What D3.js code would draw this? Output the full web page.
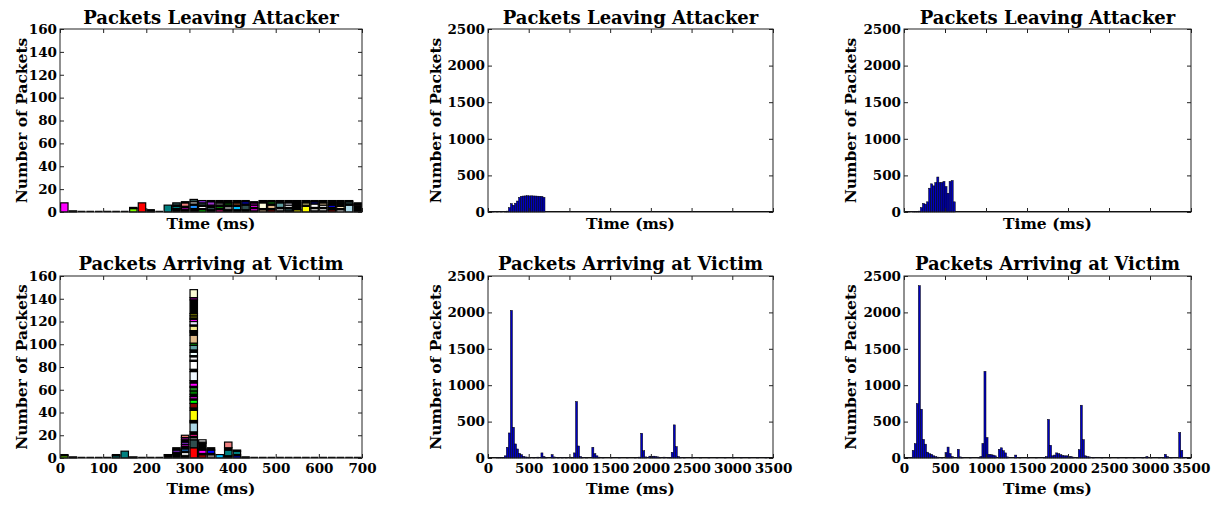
<!DOCTYPE html>
<html>
<head>
<meta charset="utf-8">
<script src="https://cdn.jsdelivr.net/npm/d3@7/dist/d3.min.js"></script>
<style>
  body { margin: 0; background: #fff; }
  text { font-family: "DejaVu Serif", serif; font-weight: bold; fill: #000; }
</style>
</head>
<body>
<div id="canvas"></div>
<script>
// left column: stacked 20 ms bins, one array of [count, colour] per bin
var attackerA = [
  [[8,'magenta']], [[1,'black']], [], [], [], [], [], [],
  [[3,'lawngreen'],[1,'black']], [[8,'red']], [[1,'darkred'],[1,'black']], [],
  [[6,'teal']],
  [[2,'black'],[1,'purple'],[2,'teal'],[1,'black'],[2,'darkslategray']],
  [[2,'black'],[2,'purple'],[1,'black'],[3,'lightcoral'],[1,'black']],
  [[3,'black'],[3,'dodgerblue'],[1,'black'],[2,'white'],[2,'darkslategray']],
  [[2,'lime'],[1,'black'],[2,'white'],[1,'black'],[2,'darkslategray'],[2,'blueviolet']],
  [[1,'black'],[1,'navy'],[2,'darkslategray'],[1,'orange'],[1,'black'],[3,'darkorchid'],[1,'black']],
  [[2,'deeppink'],[1,'black'],[2,'green'],[1,'black'],[2,'gray'],[2,'black']],
  [[2,'black'],[3,'gray'],[1,'black'],[2,'darkgreen'],[2,'black']],
  [[2,'black'],[3,'deepskyblue'],[1,'black'],[2,'sienna'],[2,'black']],
  [[2,'black'],[4,'darkslategray'],[1,'black'],[2,'blue'],[1,'black']],
  [[1,'navy'],[2,'magenta'],[1,'black'],[2,'magenta'],[2,'purple'],[1,'black']],
  [[2,'tan'],[1,'black'],[5,'lightyellow'],[2,'black']],
  [[2,'darkred'],[1,'black'],[3,'burlywood'],[1,'black'],[2,'green'],[1,'black']],
  [[1,'black'],[2,'lightgray'],[1,'black'],[4,'cadetblue'],[2,'black']],
  [[1,'darkgoldenrod'],[2,'darkslategray'],[1,'black'],[2,'white'],[2,'lavender'],[2,'black']],
  [[2,'yellow'],[8,'black']],
  [[5,'yellow'],[1,'black'],[2,'khaki'],[2,'black']],
  [[1,'black'],[2,'white'],[1,'black'],[3,'white'],[2,'navy'],[1,'black']],
  [[1,'gray'],[2,'white'],[1,'black'],[2,'white'],[2,'tan'],[2,'black']],
  [[2,'darkred'],[2,'black'],[2,'blue'],[4,'black']],
  [[2,'white'],[1,'black'],[2,'wheat'],[2,'black'],[1,'lawngreen'],[2,'black']],
  [[6,'lightblue'],[1,'black'],[2,'darkslategray'],[1,'black']],
  [[6,'black'],[1,'palevioletred'],[1,'black']]
];

var victimA = [
  [[2,'lawngreen'],[1,'black']], [[1,'black']], [], [], [], [],
  [[2,'teal'],[1,'black']], [[6,'teal']], [[1,'black']], [], [], [],
  [[3,'black']],
  [[3,'black'],[1,'navy'],[1,'black'],[2,'blueviolet'],[2,'black']],
  [[2,'black'],[3,'lightgray'],[1,'black'],[2,'dodgerblue'],[2,'black'],[2,'purple'],[2,'blueviolet'],[2,'black'],[2,'purple'],[2,'salmon']],
  [[9,'red'],[7,'darkslategray'],[2,'gray'],[1,'black'],[2,'deeppink'],[2,'black'],[8,'lightblue'],[1,'black'],[1,'black'],
   [9,'yellow'],[2,'black'],[4,'darkred'],[3,'lime'],[1,'black'],[2,'magenta'],[2,'black'],[3,'green'],[3,'forestgreen'],
   [1,'black'],[3,'magenta'],[2,'black'],[8,'aliceblue'],[2,'black'],[7,'white'],[1,'black'],[3,'whitesmoke'],[1,'orange'],
   [3,'azure'],[2,'black'],[4,'cadetblue'],[2,'green'],[7,'burlywood'],[2,'black'],[1,'blue'],[1,'gray'],[4,'khaki'],
   [1,'gray'],[3,'lavender'],[2,'magenta'],[1,'black'],[2,'olive'],[2,'olive'],[12,'black'],[2,'purple'],[7,'lightgoldenrodyellow']],
  [[3,'darkred'],[1,'black'],[3,'magenta'],[1,'black'],[5,'black'],[1,'black'],[2,'white']],
  [[3,'gray'],[1,'black'],[3,'blue'],[2,'black']],
  [[3,'deepskyblue']],
  [[1,'blue'],[1,'black'],[5,'teal'],[2,'black'],[5,'lightcoral']],
  [[2,'blue'],[1,'black'],[3,'teal'],[1,'black']],
  [[1,'black']], [], [], [], [], [], [], [], [], [], [], [], [], []
];

// middle and right columns: 25 ms bins, only non-empty bins listed
var attackerB_t = [50, 100, 150, 200, 225, 250, 275, 300, 325, 350, 375, 400, 425, 450, 475, 500, 525, 550, 575, 600, 625, 650, 675];
var attackerB_c = [3, 4, 8, 5, 12, 60, 115, 92, 120, 150, 200, 215, 218, 220, 222, 220, 221, 219, 218, 216, 215, 212, 200];

var attackerC_t = [50, 100, 125, 150, 175, 200, 225, 250, 275, 300, 325, 350, 375, 400, 425, 450, 475, 500, 525, 550, 575, 600];
var attackerC_c = [3, 10, 6, 8, 12, 60, 117, 107, 139, 325, 385, 357, 403, 478, 403, 403, 417, 347, 256, 417, 430, 139];

var victimB_t = [100,125,150,175,200,225,250,275,300,325,350,375,400,425,450,475,500,550,600,650,675,700,775,800,850,900,950,1000,1025,1050,
  1075,1100,1125,1150,1200,1275,1300,1325,1350,1400,1500,1600,1700,1800,1850,1875,1900,1925,1975,2000,2025,2050,2075,2100,2150,2200,2225,2250,2275,2300,
  2325,2350,2400,2500,2600,2700,2800,2900,3000,3100,3200,3300,3400];
var victimB_c = [5,8,6,10,30,147,344,2028,422,193,124,64,46,23,15,12,10,8,12,70,20,10,46,15,8,10,6,12,8,70,
  776,165,20,10,8,147,60,30,12,8,6,10,8,5,12,340,100,15,25,22,25,20,15,10,12,8,10,78,455,156,
  20,10,8,6,5,8,5,6,10,6,5,8,5];

var victimC_t = [50,75,100,125,150,175,200,225,250,275,300,325,350,375,400,450,500,525,550,575,650,675,700,800,900,925,950,975,1000,1025,
  1050,1075,1100,1150,1175,1200,1225,1250,1350,1400,1500,1600,1700,1725,1750,1775,1800,1825,1850,1875,1900,1925,1950,1975,2000,2025,2050,2100,2125,2150,
  2175,2200,2225,2250,2300,2400,2500,2600,2700,2800,2900,2950,3000,3100,3150,3175,3200,3250,3350,3375,3400,3450];
var victimC_c = [8,10,105,197,748,2367,670,255,190,80,60,50,30,20,12,10,75,150,60,20,120,15,8,10,10,20,200,1190,280,50,
  45,40,30,120,140,100,70,15,40,10,8,6,10,20,530,175,30,40,70,60,45,35,30,30,20,20,12,10,115,725,
  252,30,20,15,10,8,6,8,5,6,10,20,8,6,10,50,20,8,350,105,10,5];

var smallYTicks = [0, 20, 40, 60, 80, 100, 120, 140, 160],
    bigYTicks = [0, 500, 1000, 1500, 2000, 2500],
    shortXTicks = [0, 100, 200, 300, 400, 500, 600, 700],
    longXTicks = [0, 500, 1000, 1500, 2000, 2500, 3000, 3500];

var titles = ['Packets Leaving Attacker', 'Packets Arriving at Victim'];


(function(d3){

  var canvas_d = {width: 1215, height: 508},
      cols = [{x: 60, w: 302, lab: 33}, {x: 488, w: 285, lab: 47}, {x: 904, w: 287, lab: 48}],
      rows = [{y: 29, h: 183}, {y: 276, h: 182}],
      canvas;

  canvas = d3.select('#canvas').append('svg')
      .attr('width', canvas_d.width)
      .attr('height', canvas_d.height);

  var panels = [
    {col: 0, row: 0, kind: 'stack', data: attackerA},
    {col: 0, row: 1, kind: 'stack', data: victimA},
    {col: 1, row: 0, kind: 'bins', t: attackerB_t, c: attackerB_c},
    {col: 1, row: 1, kind: 'bins', t: victimB_t, c: victimB_c},
    {col: 2, row: 0, kind: 'bins', t: attackerC_t, c: attackerC_c},
    {col: 2, row: 1, kind: 'bins', t: victimC_t, c: victimC_c}
  ];

  panels.forEach(function(p) {
    var c = cols[p.col], r = rows[p.row],
        small = p.kind === 'stack',
        xTicks = small ? shortXTicks : longXTicks,
        yTicks = small ? smallYTicks : bigYTicks,
        x = d3.scaleLinear().domain([0, small ? 700 : 3500]).range([c.x, c.x + c.w]),
        y = d3.scaleLinear().domain([0, small ? 160 : 2500]).range([r.y + r.h, r.y]),
        g = canvas.append('g');

    /**
     * Bars.
     */
    if (small) {
      p.data.forEach(function(segs, i) {
        var x0 = x(i * 20), x1 = x(i * 20 + 20), base = 0;
        if (!segs.length) {
          g.append('line')
            .attr('x1', x0 + 0.5).attr('x2', x1 - 0.5)
            .attr('y1', y(0) - 0.5).attr('y2', y(0) - 0.5)
            .attr('stroke', '#000').attr('stroke-width', 1.5);
          return;
        }
        segs.forEach(function(s) {
          g.append('rect')
            .attr('x', x0 + 0.6)
            .attr('width', x1 - x0 - 1.2)
            .attr('y', y(base + s[0]))
            .attr('height', y(base) - y(base + s[0]))
            .attr('fill', s[1])
            .attr('stroke', '#000')
            .attr('stroke-width', 1.2);
          base += s[0];
        });
      });
    } else {
      g.append('line')
        .attr('x1', x(0)).attr('x2', x(3500))
        .attr('y1', y(0) - 0.5).attr('y2', y(0) - 0.5)
        .attr('stroke', '#000').attr('stroke-width', 1.2);
      g.selectAll('rect.bin')
          .data(p.t)
        .enter().append('rect')
          .attr('class', 'bin')
          .attr('x', function(d) { return x(d); })
          .attr('width', function(d) { return x(d + 25) - x(d); })
          .attr('y', function(d, i) { return y(p.c[i]); })
          .attr('height', function(d, i) { return y(0) - y(p.c[i]); })
          .attr('fill', '#0000c0')
          .attr('stroke', '#000')
          .attr('stroke-width', 0.5);
    }

    /**
     * Frame and ticks (inward, both sides).
     */
    g.append('rect')
      .attr('x', c.x).attr('y', r.y)
      .attr('width', c.w).attr('height', r.h)
      .attr('fill', 'none').attr('stroke', '#222').attr('stroke-width', 1);

    g.append('g')
        .attr('transform', 'translate(0,' + (r.y + r.h) + ')')
        .call(d3.axisBottom(x).tickValues(xTicks).tickSizeInner(-4).tickSizeOuter(0)
          .tickPadding(5).tickFormat(p.row === 1 ? d3.format('d') : ''))
        .call(function(a) { a.select('.domain').remove(); });

    g.append('g')
        .attr('transform', 'translate(0,' + r.y + ')')
        .call(d3.axisTop(x).tickValues(xTicks).tickSizeInner(-4).tickSizeOuter(0).tickFormat(''))
        .call(function(a) { a.select('.domain').remove(); });

    g.append('g')
        .attr('transform', 'translate(' + c.x + ',0)')
        .call(d3.axisLeft(y).tickValues(yTicks).tickSizeInner(-4).tickSizeOuter(0)
          .tickPadding(3).tickFormat(d3.format('d')))
        .call(function(a) { a.select('.domain').remove(); });

    g.append('g')
        .attr('transform', 'translate(' + (c.x + c.w) + ',0)')
        .call(d3.axisRight(y).tickValues(yTicks).tickSizeInner(-4).tickSizeOuter(0).tickFormat(''))
        .call(function(a) { a.select('.domain').remove(); });

    g.selectAll('.tick line').attr('stroke', '#222');
    g.selectAll('.tick text')
      .attr('font-family', '"DejaVu Serif", serif')
      .attr('font-weight', 'bold')
      .attr('font-size', 13.5)
      .attr('fill', '#000');

    /**
     * Labels.
     */
    g.append('text')
      .attr('x', c.x + c.w / 2)
      .attr('y', r.y - (p.row === 0 ? 5 : 6))
      .attr('text-anchor', 'middle')
      .attr('font-size', 18)
      .text(titles[p.row]);

    g.append('text')
      .attr('x', c.x + c.w / 2)
      .attr('y', p.row === 0 ? 229 : 494)
      .attr('text-anchor', 'middle')
      .attr('font-size', 15.5)
      .text('Time (ms)');

    g.append('text')
      .attr('transform', 'translate(' + (c.x - c.lab) + ',' + (r.y + r.h / 2) + ') rotate(-90)')
      .attr('text-anchor', 'middle')
      .attr('font-size', 15.5)
      .text('Number of Packets');
  });

})(d3);
</script>
</body>
</html>
